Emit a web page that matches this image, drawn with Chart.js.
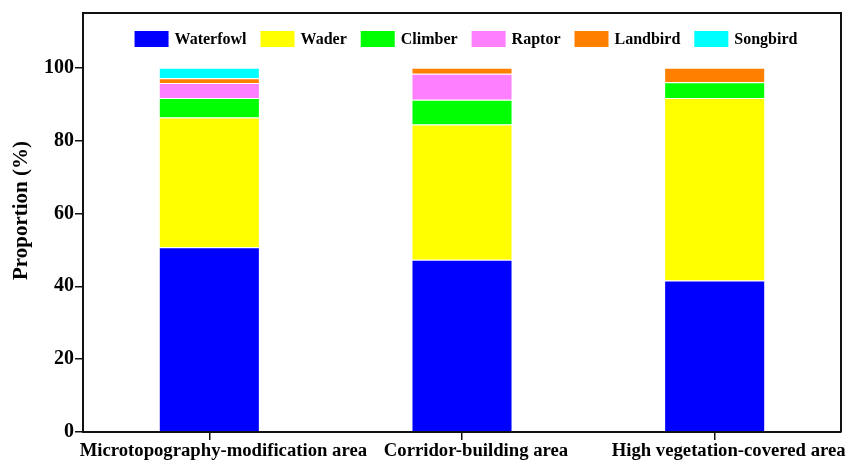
<!DOCTYPE html>
<html>
<head>
<meta charset="utf-8">
<script src="https://cdn.jsdelivr.net/npm/chart.js@4.4.1/dist/chart.umd.min.js"></script>
<style>
  html, body { margin: 0; padding: 0; background: #fff; }
  #wrap { width: 860px; height: 465px; }
</style>
</head>
<body>
<div id="wrap"><canvas id="c" width="860" height="465"></canvas></div>
<script>
// Habitat areas and the share (%) of each bird guild recorded in them
const areas = ['Microtopography-modification area', 'Corridor-building area', 'High vegetation-covered area'];
const waterfowl = [50.7, 47.3, 41.6];
const wader     = [35.6, 37.1, 50.1];
const climber   = [5.4, 6.8, 4.3];
const raptor    = [4.1, 7.1, 0];
const landbird  = [1.3, 1.7, 4.0];
const songbird  = [2.9, 0, 0];
const yTicks    = [0, 20, 40, 60, 80, 100];
const yTitle    = 'Proportion (%)';

const serif = "'Liberation Serif', 'Times New Roman', serif";

const guilds = [
  ['Waterfowl', waterfowl, '#0000ff'],
  ['Wader',     wader,     '#ffff00'],
  ['Climber',   climber,   '#00ff00'],
  ['Raptor',    raptor,    '#ff80ff'],
  ['Landbird',  landbird,  '#ff8000'],
  ['Songbird',  songbird,  '#00ffff']
];

// Plot box, y-axis title and a one-row legend inside the top of the plot
const decor = {
  id: 'decor',
  afterDraw(chart) {
    const { ctx, chartArea: a } = chart;
    ctx.save();
    ctx.strokeStyle = '#111';
    ctx.lineWidth = 2;
    ctx.beginPath();
    ctx.moveTo(a.left, a.top);
    ctx.lineTo(a.right, a.top);
    ctx.lineTo(a.right, a.bottom);
    ctx.stroke();

    // y-axis title
    ctx.fillStyle = '#000';
    ctx.font = `bold 21px ${serif}`;
    ctx.textAlign = 'center';
    ctx.textBaseline = 'middle';
    ctx.translate(22, (a.top + a.bottom) / 2 - 12);
    ctx.rotate(-Math.PI / 2);
    ctx.fillText(yTitle, 0, 0);
    ctx.setTransform(1, 0, 0, 1, 0, 0);

    // legend
    const boxW = 34, boxH = 16, gap = 6, spacing = 14;
    ctx.font = `bold 16px ${serif}`;
    ctx.textAlign = 'left';
    const items = chart.data.datasets.map(ds => ({
      label: ds.label, color: ds.backgroundColor,
      w: boxW + gap + ctx.measureText(ds.label).width
    }));
    const total = items.reduce((s, it) => s + it.w, 0) + spacing * (items.length - 1);
    let x = (a.left + a.right) / 2 + 4 - total / 2;
    const cy = a.top + 26;
    items.forEach(it => {
      ctx.fillStyle = it.color;
      ctx.fillRect(x, cy - boxH / 2, boxW, boxH);
      ctx.fillStyle = '#000';
      ctx.fillText(it.label, x + boxW + gap, cy + 1);
      x += it.w + spacing;
    });
    ctx.restore();
  }
};

new Chart(document.getElementById('c'), {
  type: 'bar',
  data: {
    labels: areas,
    datasets: guilds.map(([label, data, color]) => ({
      label, data,
      backgroundColor: color,
      borderColor: '#ffffff',
      borderWidth: 1,
      barPercentage: 0.8,
      categoryPercentage: 0.5
    }))
  },
  options: {
    responsive: false,
    animation: false,
    layout: { padding: { top: 13, right: 19, left: 0, bottom: 0 } },
    plugins: {
      tooltip: { enabled: false },
      legend: { display: false }
    },
    scales: {
      x: {
        stacked: true,
        grid: { display: true, drawOnChartArea: false, offset: false, tickLength: 8, tickColor: '#111', lineWidth: 1.5 },
        border: { display: true, color: '#111', width: 2 },
        ticks: {
          color: '#000',
          padding: 0,
          labelOffset: 14,
          maxRotation: 0,
          autoSkip: false,
          font: { family: serif, size: 18.7, weight: 'bold' }
        },
        afterFit(s) { s.height = 33; }
      },
      y: {
        stacked: true,
        min: 0,
        max: 115,
        afterBuildTicks(s) { s.ticks = yTicks.map(v => ({ value: v })); },
        grid: { display: true, drawOnChartArea: false, tickLength: 8, tickColor: '#111', lineWidth: 1.5 },
        border: { display: true, color: '#111', width: 2 },
        ticks: {
          color: '#000',
          padding: 1,
          font: { family: serif, size: 20, weight: 'bold' }
        },
        afterFit(s) { s.width = 83; }
      }
    }
  },
  plugins: [decor]
});
</script>
</body>
</html>
